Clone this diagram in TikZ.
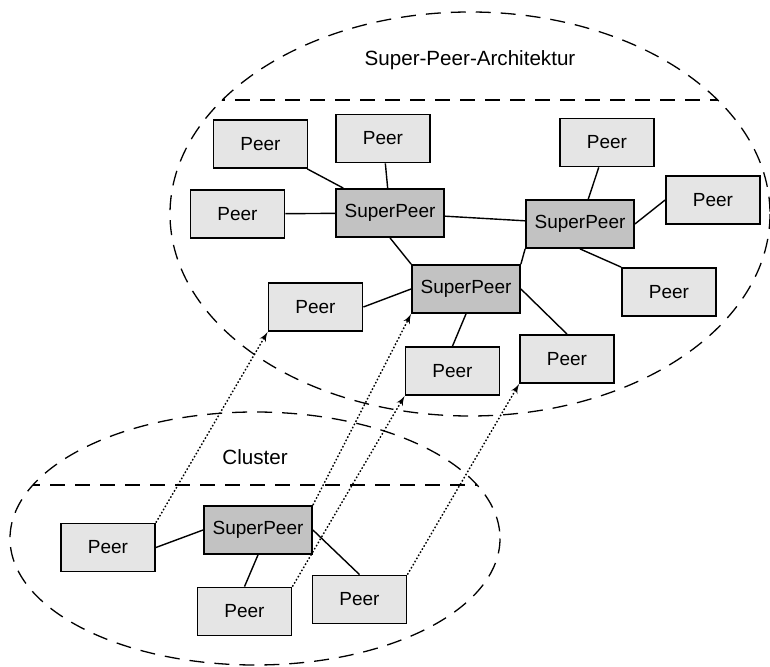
\documentclass[tikz,border=0pt]{standalone}
\usepackage{fontspec}
\setmainfont{Liberation Sans}
\usetikzlibrary{arrows}

\definecolor{peergray}{gray}{0.9}
\definecolor{supergray}{gray}{0.76}

\begin{document}
\begin{tikzpicture}[x=0.5pt,y=-0.5pt,>=latex',
        peer/.style={draw,fill=peergray,line width=0.9pt,minimum width=47pt,
          minimum height=24pt,inner sep=0pt,font=\fontsize{9.5}{11}\selectfont},
        superpeer/.style={peer,fill=supergray,minimum width=54pt},
        zone/.style={dash pattern=on 7.5pt off 5pt,line width=0.65pt},
        tie/.style={line width=0.7pt},
        lift/.style={->,dash pattern=on 0.8pt off 1pt,line width=0.7pt},
        heading/.style={font=\fontsize{10.3}{12}\selectfont}]

  \useasboundingbox (0,0) rectangle (770,667);

  % Super-Peer-Architektur
  \draw[zone] (470,214) ellipse [x radius=300, y radius=202];
  \begin{scope}
    \clip (470,214) ellipse [x radius=300, y radius=202];
    \draw[zone] (160,100) -- (780,100);
  \end{scope}
  \node[heading] (arch) at (470,60) {Super-Peer-Architektur};

  \node[superpeer] (sp1) at (390,213) {SuperPeer};
  \node[superpeer] (sp2) at (580,224) {SuperPeer};
  \node[superpeer] (sp3) at (466,289) {SuperPeer};

  \node[peer] (p1) at (260.5,144) {Peer};
  \node[peer] (p2) at (383,138.5) {Peer};
  \node[peer] (p3) at (237.5,214) {Peer};
  \node[peer] (p4) at (607,142.5) {Peer};
  \node[peer] (p5) at (713,200) {Peer};
  \node[peer] (p6) at (669,292) {Peer};
  \node[peer] (p7) at (315.5,307) {Peer};
  \node[peer] (p8) at (452.5,371) {Peer};
  \node[peer] (p9) at (567,359) {Peer};

  \path[tie] (p1) edge (sp1)
        (p2) edge (sp1)
        (p3) edge (sp1)
        (sp1) edge (sp2)
        (sp1.south) edge (sp3.north west)
        (sp2.south west) edge (sp3.north east)
        (p4) edge (sp2)
        (p5.west) edge (sp2.east)
        (sp2.south) edge (p6.north west)
        (p7.east) edge (sp3.west)
        (sp3.south) edge (p8.north)
        (sp3.east) edge (p9.north);

  % Cluster
  \draw[zone] (255,538.5) ellipse [x radius=245, y radius=126.5];
  \begin{scope}
    \clip (255,538.5) ellipse [x radius=245, y radius=126.5];
    \draw[zone] (0,485) -- (510,485);
  \end{scope}
  \node[heading] (clu) at (255,457) {Cluster};

  \node[superpeer] (csp) at (258,530) {SuperPeer};
  \node[peer] (cp1) at (108,547.5) {Peer};
  \node[peer] (cp2) at (244.5,611.5) {Peer};
  \node[peer] (cp3) at (359.5,599.5) {Peer};

  \path[tie] (cp1.east) edge (csp.west)
        (csp.south) edge (cp2.north)
        (csp.east) edge (cp3.north);

  \path[lift] (cp1.north east) edge (p7.south west)
        (csp.north east) edge (sp3.south west)
        (cp2.north east) edge (p8.south west)
        (cp3.north east) edge (p9.south west);

\end{tikzpicture}
\end{document}
